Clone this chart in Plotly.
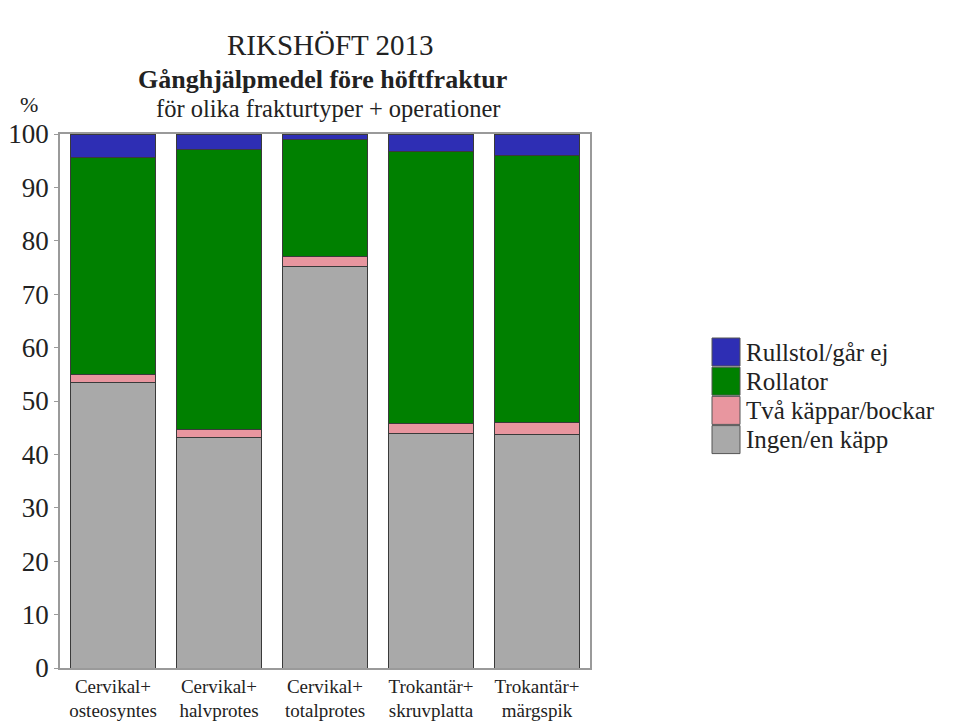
import plotly.graph_objects as go

categories = ["Cervikal+<br>osteosyntes", "Cervikal+<br>halvprotes", "Cervikal+<br>totalprotes",
              "Trokantär+<br>skruvplatta", "Trokantär+<br>märgspik"]
series_names = ["Ingen/en käpp", "Två käppar/bockar", "Rollator", "Rullstol/går ej"]
ingen = [53.4, 43.2, 75.1, 44.0, 43.7]
tva = [1.5, 1.4, 2.0, 1.8, 2.3]
rollator = [40.7, 52.5, 21.8, 50.9, 50.0]
rullstol = [4.4, 2.9, 1.1, 3.3, 4.0]
y_ticks = [0, 10, 20, 30, 40, 50, 60, 70, 80, 90, 100]

colors = ["#A9A9A9", "#E8969F", "#008000", "#2E2EB4"]
values = [ingen, tva, rollator, rullstol]

FONT = "Liberation Serif"
W, H = 953, 722
L, R, T, B = 60, 590, 134, 668

fig = go.Figure()
for name, vals, col in zip(series_names, values, colors):
    fig.add_trace(go.Bar(x=categories, y=vals, name=name,
                         marker=dict(color=col, line=dict(color="#3a3a3a", width=1)),
                         showlegend=False))

def px2x(px):
    return (px - L) / (R - L)

def py2y(py):
    return (B - py) / (B - T)

shapes = []
annotations = []
# custom legend (top item = last series)
for i, (name, col) in enumerate(zip(series_names[::-1], colors[::-1])):
    top = 338 + i * 29.2
    shapes.append(dict(type="rect", xref="paper", yref="paper",
                       x0=px2x(712), x1=px2x(740), y0=py2y(top + 28), y1=py2y(top),
                       fillcolor=col, line=dict(color="#555555", width=1)))
    annotations.append(dict(text=name, xref="paper", yref="paper",
                            x=px2x(744), y=py2y(top + 14), xanchor="left", yanchor="middle",
                            showarrow=False, font=dict(family=FONT, size=25, color="#222222")))

annotations += [
    dict(text="RIKSHÖFT 2013", xref="paper", yref="paper", x=px2x(330), y=py2y(45),
         xanchor="center", yanchor="middle", showarrow=False,
         font=dict(family=FONT, size=29, color="#222222")),
    dict(text="<b>Gånghjälpmedel före höftfraktur</b>", xref="paper", yref="paper",
         x=px2x(322), y=py2y(80), xanchor="center", yanchor="middle", showarrow=False,
         font=dict(family=FONT, size=26, color="#222222")),
    dict(text="för olika frakturtyper + operationer", xref="paper", yref="paper",
         x=px2x(328), y=py2y(108), xanchor="center", yanchor="middle", showarrow=False,
         font=dict(family=FONT, size=24.5, color="#222222")),
    dict(text="%", xref="paper", yref="paper", x=px2x(29), y=py2y(104),
         xanchor="center", yanchor="middle", showarrow=False,
         font=dict(family=FONT, size=22, color="#222222")),
]

fig.update_layout(
    width=W, height=H,
    barmode="stack", bargap=0.2,
    margin=dict(l=L, r=W - R, t=T, b=H - B),
    paper_bgcolor="white", plot_bgcolor="white",
    shapes=shapes, annotations=annotations,
    font=dict(family=FONT, color="#222222"),
)
fig.update_xaxes(showgrid=False, showline=True, linecolor="#9a9a9a", linewidth=1.5, mirror=True,
                 ticks="", ticklabelstandoff=0, automargin=False,
                 tickfont=dict(family=FONT, size=19, color="#222222"))
fig.update_yaxes(range=[0, 100], tickvals=y_ticks, showgrid=False, showline=True,
                 linecolor="#9a9a9a", linewidth=1.5, mirror=True, ticks="outside", ticklen=4,
                 tickcolor="#9a9a9a", automargin=False,
                 tickfont=dict(family=FONT, size=27, color="#222222"),
                 zeroline=False)

fig.write_html("out.html", config={"displayModeBar": False},
               post_script="document.body.style.margin='0px';")
